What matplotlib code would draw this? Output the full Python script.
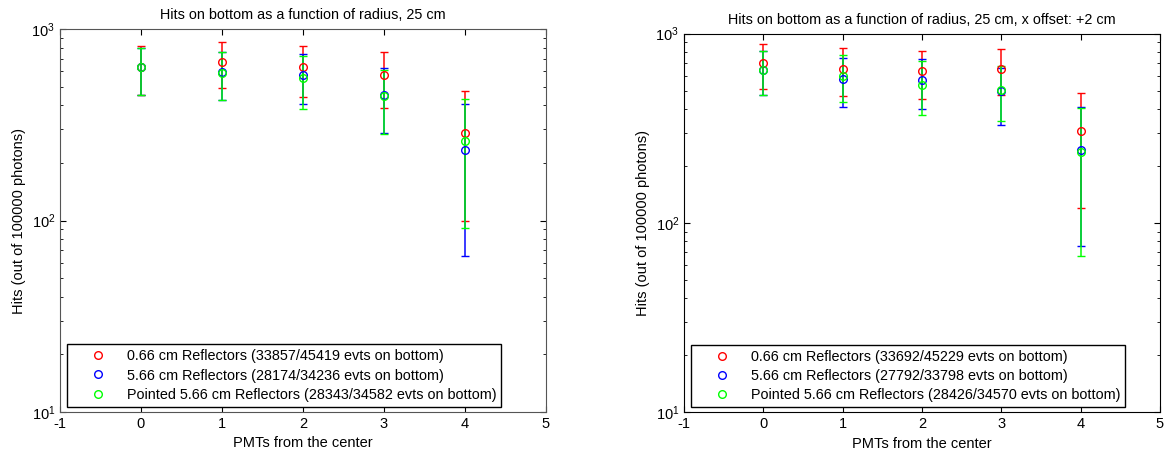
import numpy as np
import matplotlib.pyplot as plt
from matplotlib.lines import Line2D

plt.rcParams['font.family'] = ['Liberation Sans', 'DejaVu Sans']
plt.rcParams['axes.unicode_minus'] = False

# PMT positions
pmt = [0, 1, 2, 3, 4]

# left panel: 25 cm, centred
l_red = [630, 670, 636, 573, 285]
l_red_hi = [820, 855, 819, 755, 473]
l_red_lo = [455, 490, 441, 385, 99]
l_blue = [630, 594, 573, 452, 233]
l_blue_hi = [793, 759, 739, 624, 405]
l_blue_lo = [455, 426, 405, 285, 65.5]
l_green = [630, 588, 557, 447, 260]
l_green_hi = [793, 759, 726, 611, 433]
l_green_lo = [455, 426, 382, 283, 91.4]

# right panel: 25 cm, x offset +2 cm
r_red = [697, 650, 637, 650, 305]
r_red_hi = [879, 840, 813, 833, 488]
r_red_lo = [508, 468, 450, 474, 120]
r_blue = [643, 576, 569, 498, 243]
r_blue_hi = [813, 744, 735, 656, 409]
r_blue_lo = [475, 411, 400, 329, 75.9]
r_green = [643, 600, 537, 506, 236]
r_green_hi = [813, 769, 714, 678, 407]
r_green_lo = [475, 434, 372, 344, 66.7]

l_labels = ['0.66 cm Reflectors (33857/45419 evts on bottom)',
            '5.66 cm Reflectors (28174/34236 evts on bottom)',
            'Pointed 5.66 cm Reflectors (28343/34582 evts on bottom)']
r_labels = ['0.66 cm Reflectors (33692/45229 evts on bottom)',
            '5.66 cm Reflectors (27792/33798 evts on bottom)',
            'Pointed 5.66 cm Reflectors (28426/34570 evts on bottom)']

colors = ['#ff0000', '#0000ff', '#00ff00']

fig = plt.figure(figsize=(11.67, 4.54), dpi=100)
ax1 = fig.add_axes([0.0514, 0.0925, 0.4162, 0.8436])
ax2 = fig.add_axes([0.5861, 0.0918, 0.4079, 0.834])


def panel(ax, series, labels, title, frame):
    for (v, hi, lo), c in zip(series, colors):
        v = np.array(v, float)
        err = [v - np.array(lo), np.array(hi) - v]
        cont = ax.errorbar(pmt, v, yerr=err, fmt='o', color=c, ecolor=c, mfc='none',
                           mec=c, ms=5.5, mew=1, elinewidth=1.08, capsize=3,
                           capthick=1.08)
        for lc in cont[2]:
            lc.set_snap(True)
        for cl in cont[1]:
            cl.set_snap(True)
    ax.set_yscale('log')
    ax.set_ylim(10, 1000)
    ax.set_xlim(-1, 5)
    ax.set_xticks(range(-1, 6))
    ax.tick_params(which='both', direction='in', top=True, right=True, labelsize=10.5)
    ax.tick_params(which='major', length=4)
    ax.tick_params(which='minor', length=2)
    ax.set_title(title, fontsize=10.4, pad=7)
    ax.set_xlabel('PMTs from the center', fontsize=10.5, labelpad=4)
    ax.set_ylabel('Hits (out of 100000 photons)', fontsize=10.5)
    for s in ax.spines.values():
        s.set_color(frame)
    handles = [Line2D([], [], ls='none', marker='o', mfc='none', mec=c, ms=5.5)
               for c in colors]
    leg = ax.legend(handles, labels, loc='lower left', bbox_to_anchor=(0.015, 0.014),
                    fontsize=10.4, fancybox=False, edgecolor='black', framealpha=1,
                    handlelength=3.6, borderpad=0.35, labelspacing=0.35,
                    handletextpad=0.17, borderaxespad=0)
    leg.get_frame().set_linewidth(1)


panel(ax1, [(l_red, l_red_hi, l_red_lo), (l_blue, l_blue_hi, l_blue_lo),
            (l_green, l_green_hi, l_green_lo)], l_labels,
      'Hits on bottom as a function of radius, 25 cm', '#555555')
panel(ax2, [(r_red, r_red_hi, r_red_lo), (r_blue, r_blue_hi, r_blue_lo),
            (r_green, r_green_hi, r_green_lo)], r_labels,
      'Hits on bottom as a function of radius, 25 cm, x offset: +2 cm', 'black')

fig.savefig('out.png', dpi=100)
